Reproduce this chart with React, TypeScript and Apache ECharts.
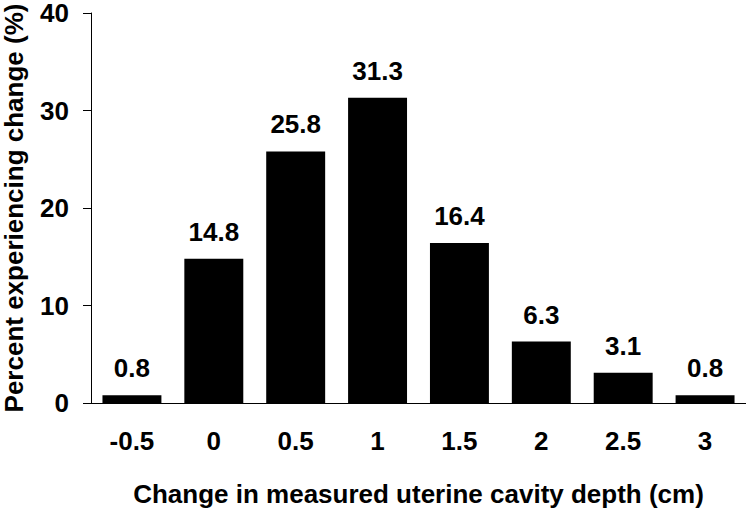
import React, { useEffect, useRef } from "react";
import * as echarts from "echarts";

const categories = ["-0.5", "0", "0.5", "1", "1.5", "2", "2.5", "3"];
const percents = [0.8, 14.8, 25.8, 31.3, 16.4, 6.3, 3.1, 0.8];
const yTicks = { min: 0, max: 40, interval: 10 };

export default function App() {
  const ref = useRef<HTMLDivElement>(null);
  useEffect(() => {
    const chart = echarts.init(ref.current!, null, { renderer: "svg" });
    const font = "'Liberation Sans', Arial, sans-serif";
    chart.setOption({
      animation: false,
      grid: { left: 91, right: 0, top: 13, bottom: 107, containLabel: false, outerBoundsMode: "none" },
      xAxis: {
        type: "category",
        data: categories,
        name: "Change in measured uterine cavity depth (cm)",
        nameLocation: "middle",
        nameGap: 78,
        nameTextStyle: { fontFamily: font, fontWeight: "bold", fontSize: 26, color: "#000" },
        axisLine: { lineStyle: { color: "#000", width: 1 } },
        axisTick: { length: 8, lineStyle: { color: "#000" } },
        axisLabel: { fontFamily: font, fontWeight: "bold", fontSize: 26, color: "#000", margin: 25 },
      },
      yAxis: {
        type: "value",
        min: yTicks.min,
        max: yTicks.max,
        interval: yTicks.interval,
        name: "Percent experiencing change (%)",
        nameLocation: "middle",
        nameGap: 64,
        nameRotate: 90,
        nameTextStyle: { fontFamily: font, fontWeight: "bold", fontSize: 26, color: "#000" },
        axisLine: { show: true, lineStyle: { color: "#000", width: 1 } },
        axisTick: { show: true, length: 8, lineStyle: { color: "#000" } },
        splitLine: { show: false },
        axisLabel: {
          fontFamily: font,
          fontWeight: "bold",
          fontSize: 26,
          color: "#000",
          margin: 22,
        },
      },
      series: [
        {
          type: "bar",
          data: percents,
          barCategoryGap: "28%",
          itemStyle: { color: "#000" },
          label: {
            show: true,
            position: "top",
            distance: 14,
            fontFamily: font,
            fontWeight: "bold",
            fontSize: 26,
            color: "#000",
            formatter: (p: any) => p.value.toFixed(1),
          },
        },
      ],
    });
    return () => chart.dispose();
  }, []);
  return (
    <div
      ref={ref}
      style={{ position: "fixed", left: 0, top: 0, width: 746, height: 510, background: "#fff" }}
    />
  );
}
